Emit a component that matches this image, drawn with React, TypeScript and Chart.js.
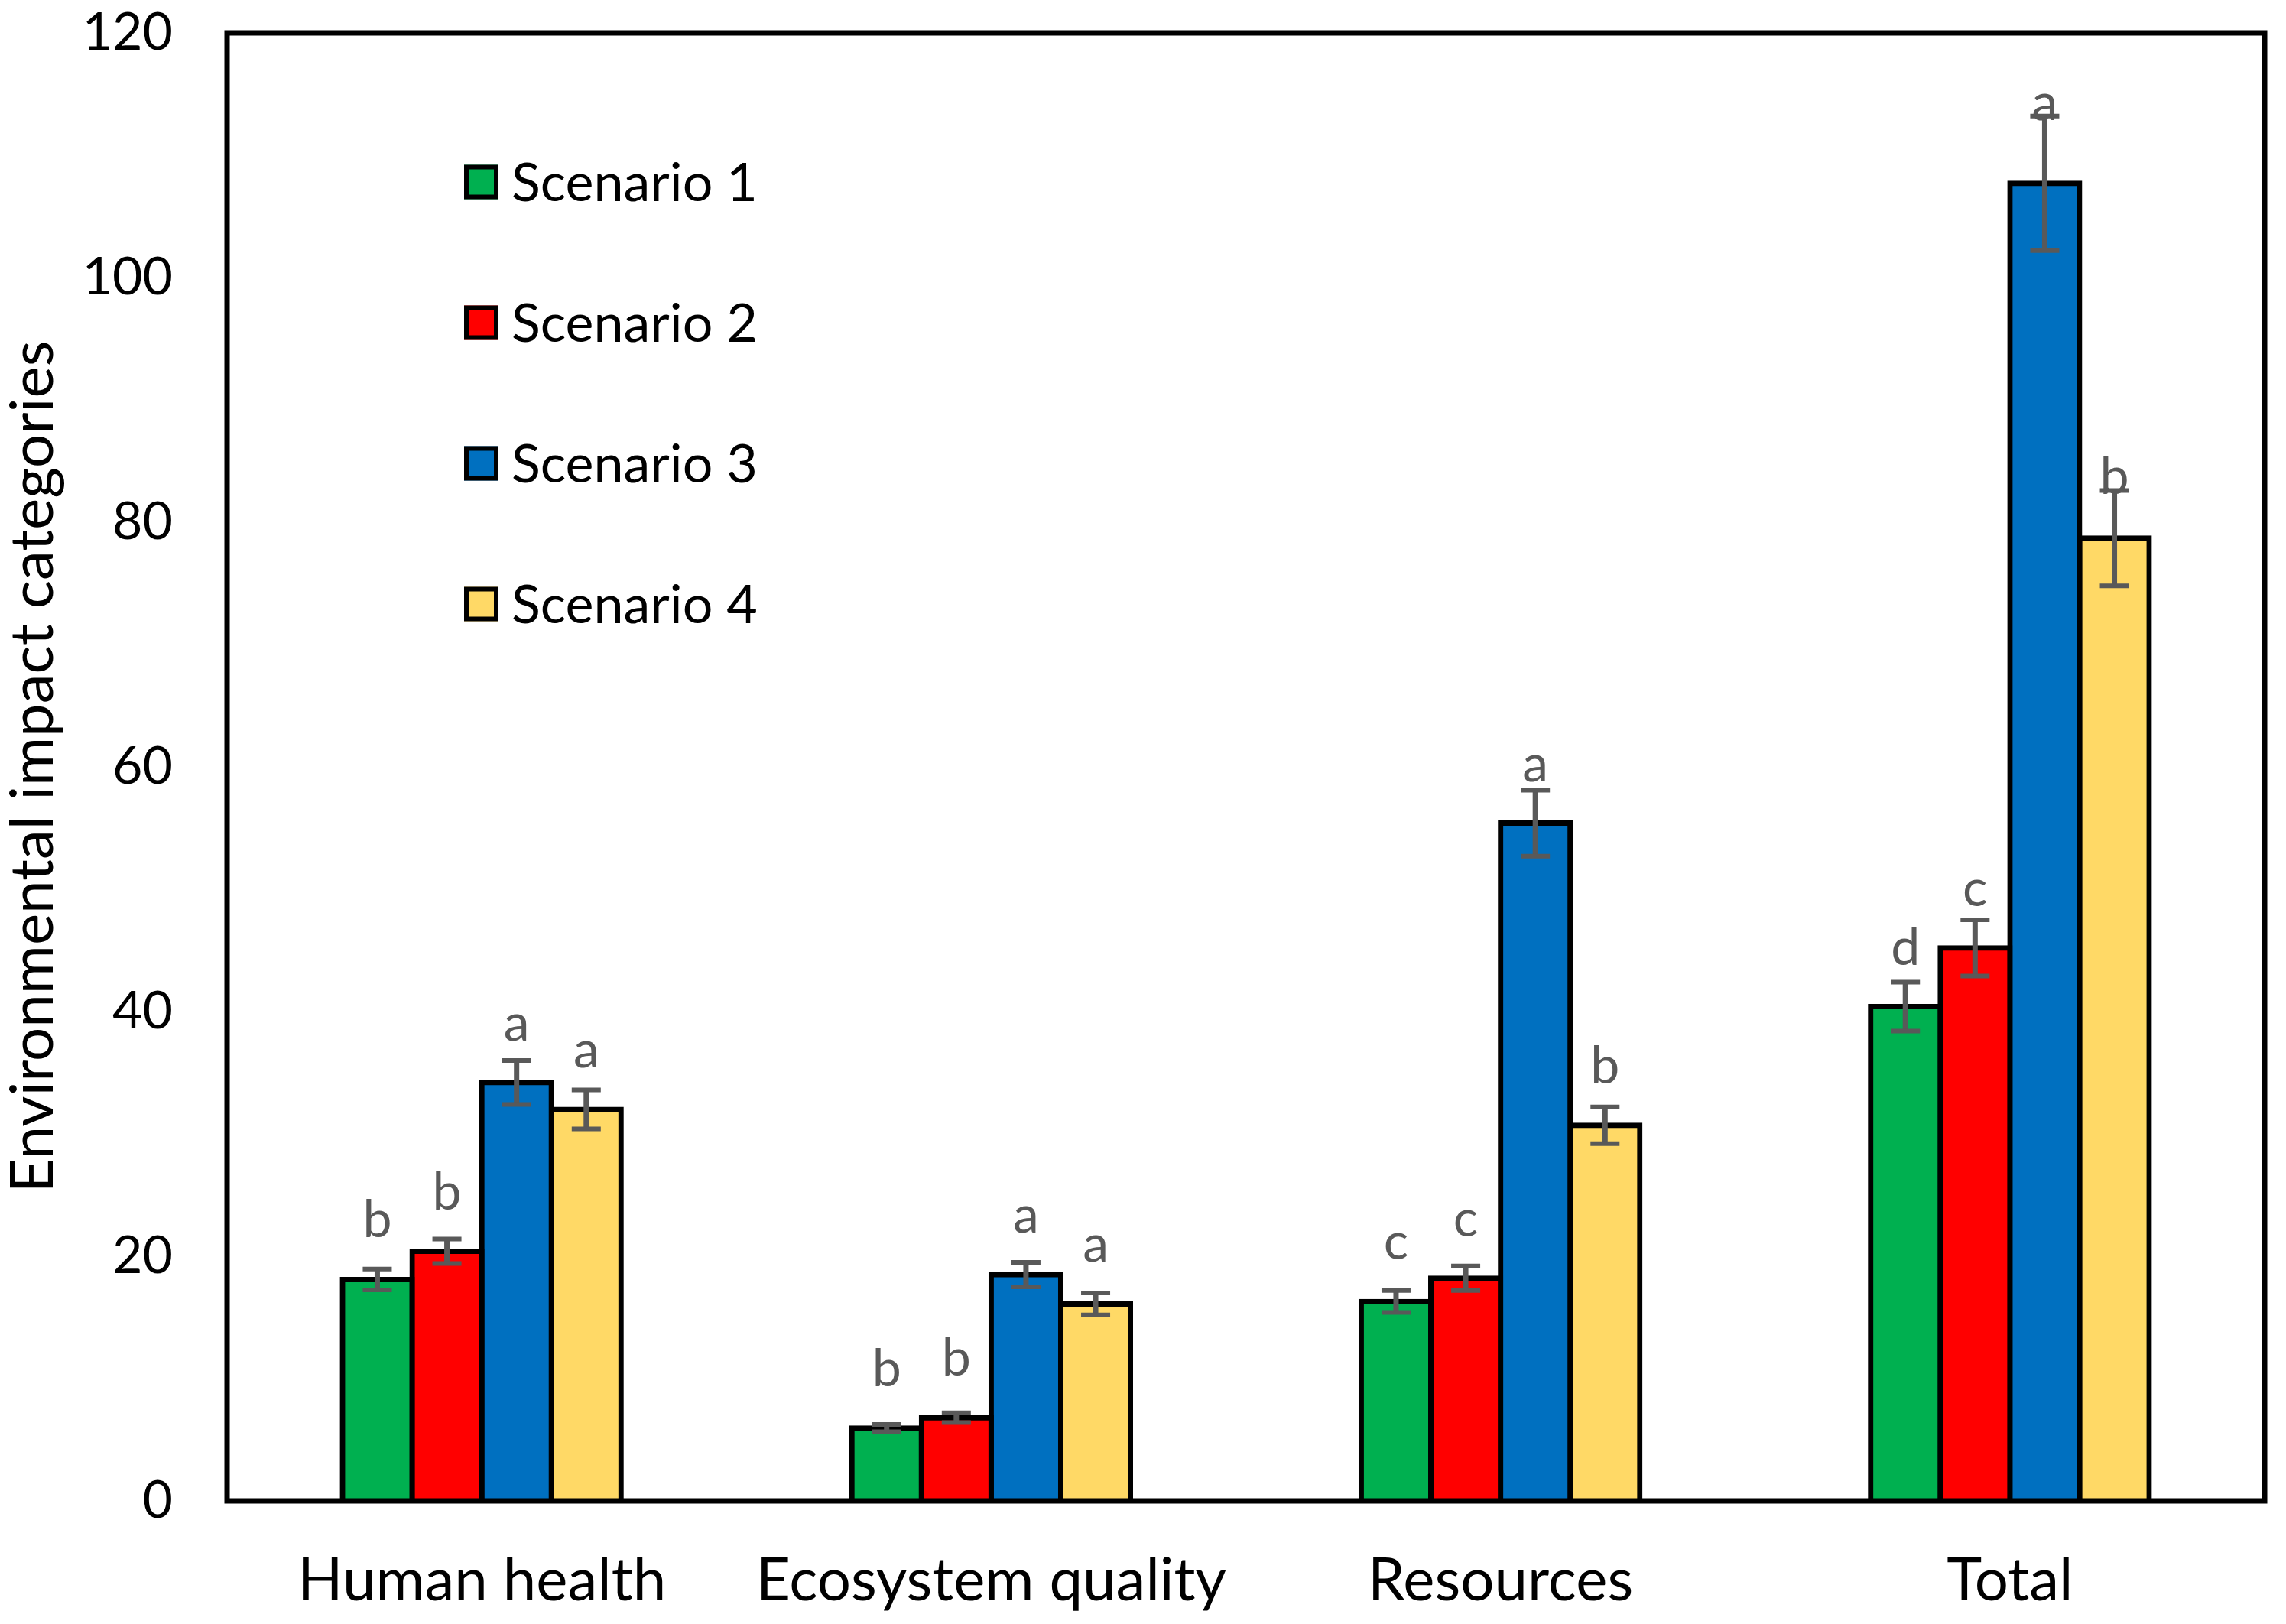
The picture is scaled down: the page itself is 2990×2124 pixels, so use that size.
import React, { useEffect, useRef } from "react";
import { Chart, registerables } from "chart.js";

Chart.register(...registerables);

const categories = ["Human health", "Ecosystem quality", "Resources", "Total"];
const seriesNames = ["Scenario 1", "Scenario 2", "Scenario 3", "Scenario 4"];
const seriesColors = ["#00B050", "#FF0000", "#0070C0", "#FFD966"];

const scenario1 = [18.1, 5.95, 16.3, 40.4];
const scenario2 = [20.4, 6.8, 18.2, 45.2];
const scenario3 = [34.2, 18.5, 55.4, 107.7];
const scenario4 = [32.0, 16.1, 30.7, 78.7];

const error1 = [0.85, 0.3, 0.9, 2.0];
const error2 = [1.0, 0.4, 1.0, 2.3];
const error3 = [1.8, 1.0, 2.7, 5.5];
const error4 = [1.6, 0.9, 1.5, 3.9];

const letters1 = ["b", "b", "c", "d"];
const letters2 = ["b", "b", "c", "c"];
const letters3 = ["a", "a", "a", "a"];
const letters4 = ["a", "a", "b", "b"];

const yTickValues = [0, 20, 40, 60, 80, 100, 120];
const yTitle = "Environmental impact categories";

const seriesValues = [scenario1, scenario2, scenario3, scenario4];
const seriesErrors = [error1, error2, error3, error4];
const seriesLetters = [letters1, letters2, letters3, letters4];

const FONT = "Lato, 'Open Sans', sans-serif";

const overlayPlugin = {
  id: "overlay",
  afterDatasetsDraw(chart: any) {
    const { ctx, chartArea, scales } = chart;
    const y = scales.y;
    ctx.save();
    // error bars and letters
    chart.data.datasets.forEach((ds: any, di: number) => {
      const meta = chart.getDatasetMeta(di);
      meta.data.forEach((bar: any, i: number) => {
        const v = ds.data[i];
        const e = seriesErrors[di][i];
        const x = bar.x;
        const yTop = y.getPixelForValue(v + e);
        const yBot = y.getPixelForValue(v - e);
        ctx.strokeStyle = "#595959";
        ctx.lineCap = "butt";
        ctx.lineWidth = 7;
        ctx.beginPath();
        ctx.moveTo(x, yTop);
        ctx.lineTo(x, yBot);
        ctx.stroke();
        ctx.lineWidth = 6;
        ctx.beginPath();
        ctx.moveTo(x - 19, yTop);
        ctx.lineTo(x + 19, yTop);
        ctx.moveTo(x - 19, yBot);
        ctx.lineTo(x + 19, yBot);
        ctx.stroke();
        const ly = Math.min(bar.y - 55, yTop + 5);
        ctx.fillStyle = "#595959";
        ctx.font = `68px ${FONT}`;
        ctx.textAlign = "center";
        ctx.textBaseline = "alphabetic";
        ctx.fillText(seriesLetters[di][i], x, ly);
      });
    });
    // plot box
    ctx.strokeStyle = "#000";
    ctx.lineWidth = 7;
    ctx.strokeRect(
      chartArea.left,
      chartArea.top,
      chartArea.right - chartArea.left,
      chartArea.bottom - chartArea.top
    );
    // legend
    const legendX = 607;
    const legendTop = 238;
    const legendGap = 184;
    const box = 45;
    chart.data.datasets.forEach((ds: any, di: number) => {
      const cy = legendTop + di * legendGap;
      ctx.fillStyle = ds.backgroundColor;
      ctx.fillRect(legendX, cy - box / 2, box, box);
      ctx.strokeStyle = "#000";
      ctx.lineWidth = 6;
      ctx.strokeRect(legendX + 3, cy - box / 2 + 3, box - 6, box - 6);
      ctx.fillStyle = "#000";
      ctx.font = `70px ${FONT}`;
      ctx.textAlign = "left";
      ctx.textBaseline = "middle";
      ctx.fillText(ds.label, legendX + box + 17, cy + 2);
    });
    // y title
    ctx.save();
    ctx.translate(44, (chartArea.top + chartArea.bottom) / 2);
    ctx.rotate(-Math.PI / 2);
    ctx.fillStyle = "#000";
    ctx.font = `78px ${FONT}`;
    ctx.textAlign = "center";
    ctx.textBaseline = "middle";
    ctx.fillText(yTitle, 0, 0);
    ctx.restore();
    ctx.restore();
  },
};

export default function App() {
  const canvasRef = useRef<HTMLCanvasElement | null>(null);

  useEffect(() => {
    document.body.style.margin = "0";
    document.body.style.overflow = "hidden";
    const canvas = canvasRef.current;
    if (!canvas) return;
    const chart = new Chart(canvas, {
      type: "bar",
      data: {
        labels: categories,
        datasets: seriesNames.map((name, di) => ({
          label: name,
          data: seriesValues[di],
          backgroundColor: seriesColors[di],
          borderColor: "#000",
          borderWidth: 7,
          inflateAmount: 3.5,
          borderSkipped: "start",
          barPercentage: 1.0,
          categoryPercentage: 0.547,
        })),
      },
      options: {
        animation: false,
        responsive: false,
        devicePixelRatio: 1,
        layout: { padding: { top: 43, right: 28, left: 0, bottom: 0 } },
        plugins: {
          legend: { display: false },
          tooltip: { enabled: false },
        },
        scales: {
          x: {
            grid: { display: false, drawTicks: false, tickLength: 0 },
            border: { display: false },
            ticks: {
              color: "#000",
              font: { family: FONT, size: 78 },
              padding: 58,
              maxRotation: 0,
              autoSkip: false,
            },
            afterFit(scale: any) {
              scale.height = 161;
              scale.paddingLeft = 0;
              scale.paddingRight = 0;
            },
          },
          y: {
            min: 0,
            max: 120,
            grid: { display: false, drawTicks: false, tickLength: 0 },
            border: { display: false },
            afterBuildTicks(scale: any) {
              scale.ticks = yTickValues.map((v) => ({ value: v }));
            },
            ticks: {
              color: "#000",
              font: { family: FONT, size: 68 },
              padding: 71,
            },
            afterFit(scale: any) {
              scale.width = 297;
              scale.paddingTop = 0;
              scale.paddingBottom = 0;
            },
          },
        },
      },
      plugins: [overlayPlugin],
    });
    return () => chart.destroy();
  }, []);

  return (
    <div style={{ width: 2990, height: 2124, background: "#fff" }}>
      <canvas
        ref={canvasRef}
        width={2990}
        height={2124}
        style={{ width: 2990, height: 2124, display: "block" }}
      />
    </div>
  );
}
